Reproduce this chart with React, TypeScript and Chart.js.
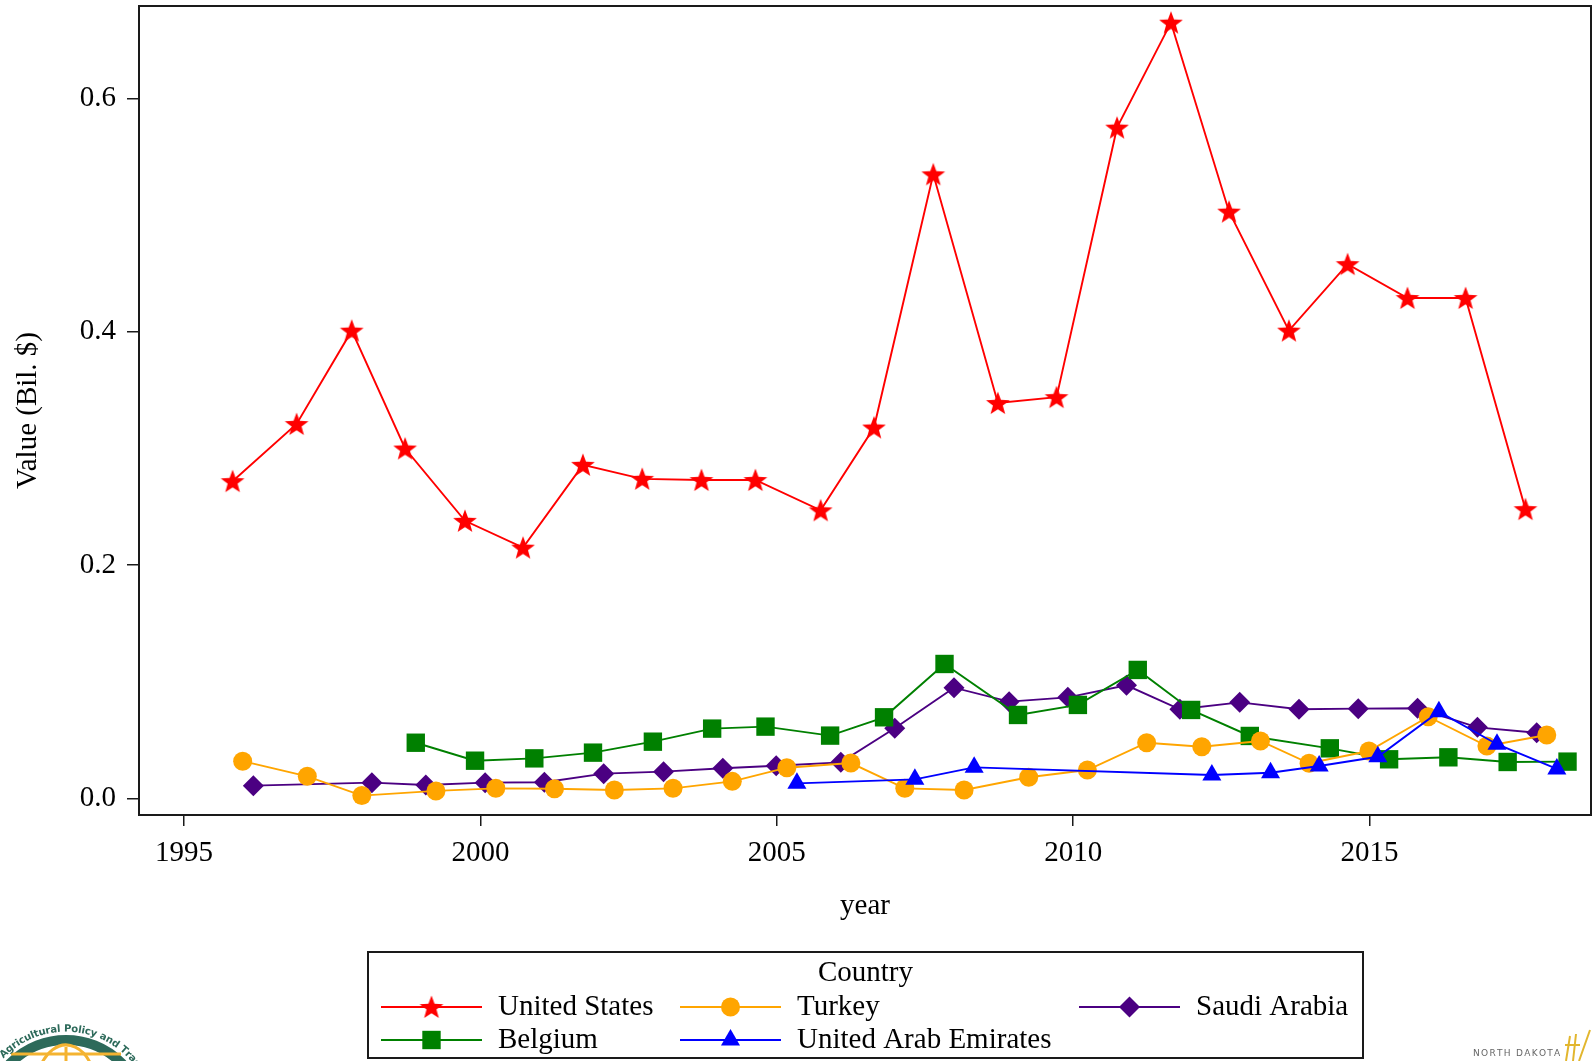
import React, { useEffect, useRef } from 'react';
import { Chart, registerables } from 'chart.js';

Chart.register(...registerables);

// ---------------- data ----------------
const usYears = [1995.82, 1996.9, 1997.83, 1998.73, 1999.74, 2000.72, 2001.73, 2002.73, 2003.73, 2004.64, 2005.74, 2006.64, 2007.64, 2008.73, 2009.72, 2010.74, 2011.65, 2012.63, 2013.64, 2014.63, 2015.64, 2016.62, 2017.63];
const usValues = [0.272, 0.321, 0.401, 0.3, 0.238, 0.215, 0.286, 0.274, 0.273, 0.273, 0.247, 0.318, 0.535, 0.339, 0.344, 0.575, 0.665, 0.503, 0.401, 0.458, 0.429, 0.429, 0.248];

const turkeyYears = [1995.99, 1997.08, 1998.0, 1999.25, 2000.26, 2001.25, 2002.26, 2003.25, 2004.25, 2005.17, 2006.25, 2007.16, 2008.16, 2009.25, 2010.24, 2011.24, 2012.17, 2013.16, 2013.98, 2014.99, 2015.99, 2016.98, 2017.99];
const turkeyValues = [0.032, 0.019, 0.0025, 0.0065, 0.0087, 0.0084, 0.0073, 0.0087, 0.0147, 0.0264, 0.0304, 0.0087, 0.0073, 0.0182, 0.0244, 0.0478, 0.0444, 0.0493, 0.0302, 0.0407, 0.0701, 0.045, 0.0544];

const saudiYears = [1996.17, 1998.17, 1999.08, 2000.08, 2001.08, 2002.08, 2003.09, 2004.09, 2004.99, 2006.08, 2006.99, 2007.99, 2008.92, 2009.91, 2010.9, 2011.8, 2012.81, 2013.81, 2014.81, 2015.81, 2016.82, 2017.82];
const saudiValues = [0.011, 0.0136, 0.0116, 0.0136, 0.0139, 0.0213, 0.023, 0.0259, 0.0281, 0.031, 0.0602, 0.095, 0.083, 0.0867, 0.097, 0.0765, 0.0824, 0.0765, 0.077, 0.0773, 0.061, 0.0564];

const belgiumYears = [1998.91, 1999.91, 2000.91, 2001.9, 2002.91, 2003.91, 2004.81, 2005.9, 2006.81, 2007.83, 2009.07, 2010.08, 2011.09, 2011.99, 2012.98, 2014.33, 2015.33, 2016.33, 2017.33, 2018.34];
const belgiumValues = [0.0478, 0.0324, 0.0344, 0.0393, 0.0487, 0.0599, 0.0616, 0.0539, 0.0696, 0.1153, 0.0716, 0.0802, 0.1102, 0.0759, 0.0536, 0.043, 0.0336, 0.0353, 0.0313, 0.0316];

const uaeYears = [2005.34, 2007.33, 2008.33, 2012.34, 2013.33, 2014.15, 2015.14, 2016.17, 2017.15, 2018.16];
const uaeValues = [0.013, 0.0164, 0.0267, 0.0201, 0.0221, 0.0279, 0.0358, 0.0744, 0.0465, 0.0253];

const xTickValues = [1995, 2000, 2005, 2010, 2015];
const yTickValues = [0, 0.2, 0.4, 0.6];

const legendTitle = 'Country';
const xTitle = 'year';
const yTitle = 'Value (Bil. $)';

// ---------------- styles ----------------
const SERIF = '"Liberation Serif", "Times New Roman", Times, serif';
const FS = 29;
const RED = '#FF0000';
const ORANGE = '#FFA500';
const GREEN = '#008000';
const BLUE = '#0000FF';
const PURPLE = '#4B0082';

function makeStar(color: string, R: number, r: number) {
  const size = 28;
  const c = document.createElement('canvas');
  c.width = size;
  c.height = size;
  const ctx = c.getContext('2d')!;
  ctx.fillStyle = color;
  ctx.beginPath();
  for (let i = 0; i < 10; i++) {
    const rad = i % 2 === 0 ? R : r;
    const a = -Math.PI / 2 + (i * Math.PI) / 5;
    const px = size / 2 + rad * Math.cos(a);
    const py = size / 2 + 1 + rad * Math.sin(a);
    if (i === 0) ctx.moveTo(px, py);
    else ctx.lineTo(px, py);
  }
  ctx.closePath();
  ctx.fill();
  return c;
}

type Marker = { style: string; radius: number };

function drawMarker(ctx: CanvasRenderingContext2D, m: Marker, color: string, x: number, y: number, star: HTMLCanvasElement) {
  ctx.save();
  ctx.fillStyle = color;
  ctx.beginPath();
  const r = m.radius;
  if (m.style === 'star') {
    ctx.drawImage(star, x - star.width / 2, y - star.height / 2);
    ctx.restore();
    return;
  } else if (m.style === 'circle') {
    ctx.arc(x, y, r, 0, Math.PI * 2);
  } else if (m.style === 'rect') {
    const s = r * Math.SQRT1_2;
    ctx.rect(x - s, y - s, 2 * s, 2 * s);
  } else if (m.style === 'rectRot') {
    ctx.moveTo(x, y - r);
    ctx.lineTo(x + r, y);
    ctx.lineTo(x, y + r);
    ctx.lineTo(x - r, y);
    ctx.closePath();
  } else if (m.style === 'triangle') {
    ctx.moveTo(x, y - r);
    ctx.lineTo(x + r * Math.sin((2 * Math.PI) / 3), y - r * Math.cos((2 * Math.PI) / 3));
    ctx.lineTo(x + r * Math.sin((4 * Math.PI) / 3), y - r * Math.cos((4 * Math.PI) / 3));
    ctx.closePath();
  }
  ctx.fill();
  ctx.restore();
}

function toPoints(xs: number[], ys: number[]) {
  return xs.map((x, i) => ({ x, y: ys[i] }));
}

function zeroPadding(scale: any) {
  scale.paddingTop = 0;
  scale.paddingBottom = 0;
  scale.paddingLeft = 0;
  scale.paddingRight = 0;
}

export default function App() {
  const canvasRef = useRef<HTMLCanvasElement | null>(null);

  useEffect(() => {
    const canvas = canvasRef.current;
    if (!canvas) return;
    const star = makeStar(RED, 12.5, 5.2);

    const series = [
      { label: 'United States', xs: usYears, ys: usValues, color: RED, marker: { style: 'star', radius: 12 } },
      { label: 'United Arab Emirates', xs: uaeYears, ys: uaeValues, color: BLUE, marker: { style: 'triangle', radius: 11 } },
      { label: 'Turkey', xs: turkeyYears, ys: turkeyValues, color: ORANGE, marker: { style: 'circle', radius: 9.5 } },
      { label: 'Belgium', xs: belgiumYears, ys: belgiumValues, color: GREEN, marker: { style: 'rect', radius: 13 } },
      { label: 'Saudi Arabia', xs: saudiYears, ys: saudiValues, color: PURPLE, marker: { style: 'rectRot', radius: 10.5 } },
    ];

    const legendOrder = [
      { label: 'United States', col: 0, row: 0 },
      { label: 'Turkey', col: 1, row: 0 },
      { label: 'Saudi Arabia', col: 2, row: 0 },
      { label: 'Belgium', col: 0, row: 1 },
      { label: 'United Arab Emirates', col: 1, row: 1 },
    ];

    const framePlugin = {
      id: 'frame',
      afterDatasetsDraw(chart: any) {
        const { ctx, chartArea } = chart;
        ctx.save();
        ctx.strokeStyle = '#1a1a1a';
        ctx.lineWidth = 2;
        ctx.strokeRect(chartArea.left, chartArea.top, chartArea.right - chartArea.left, chartArea.bottom - chartArea.top);
        ctx.restore();
      },
    };

    const legendPlugin = {
      id: 'customLegend',
      afterDraw(chart: any) {
        const ctx: CanvasRenderingContext2D = chart.ctx;
        const box = { left: 368, top: 952, right: 1363, bottom: 1058 };
        ctx.save();
        ctx.strokeStyle = '#1a1a1a';
        ctx.lineWidth = 2;
        ctx.strokeRect(box.left, box.top, box.right - box.left, box.bottom - box.top);
        ctx.fillStyle = '#000';
        ctx.font = `${FS}px ${SERIF}`;
        ctx.textAlign = 'center';
        ctx.textBaseline = 'middle';
        ctx.fillText(legendTitle, (box.left + box.right) / 2, 973);
        const colX = [381, 680, 1079];
        const rowY = [1007, 1040];
        const lineLen = 101;
        legendOrder.forEach((item) => {
          const s = series.find((d) => d.label === item.label)!;
          const x0 = colX[item.col];
          const y = rowY[item.row];
          ctx.strokeStyle = s.color;
          ctx.lineWidth = 2;
          ctx.beginPath();
          ctx.moveTo(x0, y);
          ctx.lineTo(x0 + lineLen, y);
          ctx.stroke();
          drawMarker(ctx, s.marker, s.color, x0 + lineLen / 2, y, star);
          ctx.fillStyle = '#000';
          ctx.font = `${FS}px ${SERIF}`;
          ctx.textAlign = 'left';
          ctx.textBaseline = 'middle';
          ctx.fillText(s.label, x0 + lineLen + 16, y);
        });
        ctx.restore();

        // left logo (partially visible)
        ctx.save();
        const cx = 66, cy = 1118;
        const teal = '#2d6a5a';
        ctx.beginPath();
        ctx.arc(cx, cy, 78, 0, Math.PI * 2);
        ctx.lineWidth = 10;
        ctx.strokeStyle = teal;
        ctx.stroke();
        ctx.strokeStyle = '#F4B331';
        ctx.lineWidth = 3;
        ctx.beginPath();
        ctx.moveTo(cx - 55, 1054);
        ctx.lineTo(cx + 55, 1054);
        ctx.stroke();
        ctx.beginPath();
        ctx.moveTo(cx, 1047);
        ctx.lineTo(cx, 1061);
        ctx.stroke();
        ctx.beginPath();
        ctx.ellipse(cx, 1090, 30, 45, 0, Math.PI * 1.1, Math.PI * 1.9);
        ctx.stroke();
        const text = 'for Agricultural Policy and Trade';
        ctx.fillStyle = teal;
        ctx.font = `bold 10px "DejaVu Sans", sans-serif`;
        ctx.textAlign = 'center';
        ctx.textBaseline = 'middle';
        const rText = 89;
        let total = 0;
        const widths = text.split('').map((ch) => ctx.measureText(ch).width);
        widths.forEach((w) => (total += w));
        let ang = -Math.PI / 2 - total / 2 / rText;
        text.split('').forEach((ch, i) => {
          const a = ang + widths[i] / 2 / rText;
          ctx.save();
          ctx.translate(cx + rText * Math.cos(a), cy + rText * Math.sin(a));
          ctx.rotate(a + Math.PI / 2);
          ctx.fillText(ch, 0, 0);
          ctx.restore();
          ang += widths[i] / rText;
        });
        ctx.restore();

        // right logo (partially visible)
        ctx.save();
        ctx.fillStyle = '#666';
        ctx.font = `9px "DejaVu Sans", sans-serif`;
        ctx.textAlign = 'left';
        ctx.textBaseline = 'alphabetic';
        const nd = 'NORTH DAKOTA';
        let tx = 1473;
        nd.split('').forEach((ch) => {
          ctx.fillText(ch, tx, 1056);
          tx += ctx.measureText(ch).width + 1.3;
        });
        ctx.strokeStyle = '#E2B62E';
        ctx.lineWidth = 2;
        ctx.beginPath();
        ctx.moveTo(1566, 1061); ctx.lineTo(1570, 1036);
        ctx.moveTo(1573, 1061); ctx.lineTo(1576, 1034);
        ctx.moveTo(1579, 1061); ctx.lineTo(1590, 1030);
        ctx.moveTo(1565, 1045); ctx.lineTo(1580, 1045);
        ctx.stroke();
        ctx.restore();
      },
    };

    const chart = new Chart(canvas, {
      type: 'line',
      data: {
        datasets: series.map((s) => ({
          label: s.label,
          data: toPoints(s.xs, s.ys),
          borderColor: s.color,
          backgroundColor: s.color,
          borderWidth: 1.9,
          pointStyle: s.marker.style === 'star' ? star : s.marker.style,
          pointRadius: s.marker.radius,
          pointHoverRadius: s.marker.radius,
          pointBackgroundColor: s.color,
          pointBorderColor: s.color,
          pointBorderWidth: 0,
          tension: 0,
          fill: false,
          clip: false as any,
        })),
      },
      options: {
        responsive: false,
        animation: false,
        events: [],
        layout: { autoPadding: false, padding: { left: 0, right: 2, top: 6, bottom: 126 } },
        plugins: {
          legend: { display: false },
          tooltip: { enabled: false },
        },
        scales: {
          x: {
            type: 'linear',
            min: 1994.241,
            max: 2018.736,
            afterBuildTicks: (scale: any) => {
              scale.ticks = xTickValues.map((v) => ({ value: v }));
            },
            afterFit: (scale: any) => {
              scale.height = 120;
              zeroPadding(scale);
            },
            border: { display: false },
            grid: {
              display: true,
              drawOnChartArea: false,
              drawTicks: true,
              tickLength: 11,
              color: '#1a1a1a',
              lineWidth: 1.5,
            },
            ticks: {
              color: '#000',
              font: { family: SERIF, size: FS },
              padding: 10,
              maxRotation: 0,
              autoSkip: false,
              callback: (v: any) => String(v),
            },
            title: {
              display: true,
              text: xTitle,
              color: '#000',
              font: { family: SERIF, size: FS },
              padding: { top: 0, bottom: 11 },
            },
          },
          y: {
            type: 'linear',
            min: -0.01415,
            max: 0.6793,
            afterBuildTicks: (scale: any) => {
              scale.ticks = yTickValues.map((v) => ({ value: v }));
            },
            afterFit: (scale: any) => {
              scale.width = 139;
              zeroPadding(scale);
            },
            border: { display: false },
            grid: {
              display: true,
              drawOnChartArea: false,
              drawTicks: true,
              tickLength: 12,
              color: '#1a1a1a',
              lineWidth: 1.5,
            },
            ticks: {
              color: '#000',
              font: { family: SERIF, size: FS },
              padding: 11,
              autoSkip: false,
              callback: (v: any) => Number(v).toFixed(1),
            },
            title: {
              display: true,
              text: yTitle,
              color: '#000',
              font: { family: SERIF, size: FS },
              padding: { top: 11, bottom: 0 },
            },
          },
        },
      } as any,
      plugins: [framePlugin, legendPlugin],
    });

    return () => {
      chart.destroy();
    };
  }, []);

  return (
    <div style={{ position: 'absolute', left: 0, top: 0, width: 1593, height: 1061, background: '#fff' }}>
      <canvas ref={canvasRef} width={1593} height={1061} style={{ display: 'block' }} />
    </div>
  );
}
